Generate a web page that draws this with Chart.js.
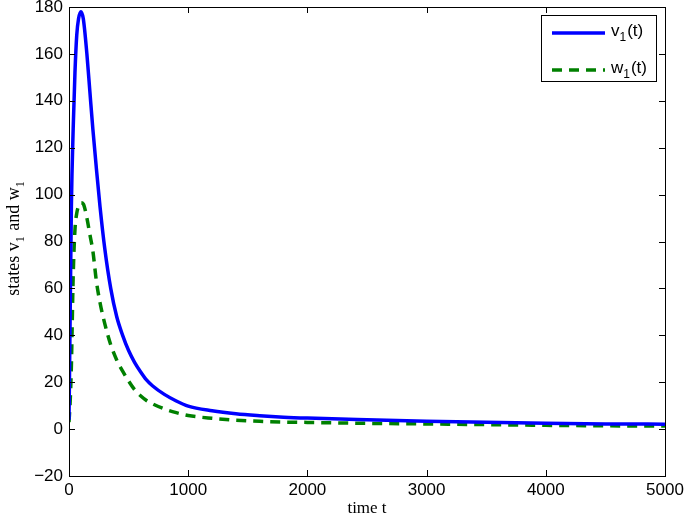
<!DOCTYPE html>
<html lang="en">
<head>
<meta charset="UTF-8">
<title>states v1 and w1</title>
<script src="https://cdn.jsdelivr.net/npm/chart.js"></script>
<style>
  html, body { margin: 0; padding: 0; background: #fff; }
  #wrap { width: 685px; height: 519px; }
</style>
</head>
<body>
<div id="wrap"><canvas id="chart"></canvas></div>
<script>
// time samples and the two states
const timeT = [0, 10, 20, 35, 50, 65, 80, 100, 120, 150, 175, 200, 230, 260, 300, 350, 400, 450, 500, 550, 600, 650, 700, 800, 900, 1000, 1200, 1400, 1600, 1800, 2000, 2500, 3000, 3500, 4000, 4500, 5000];
const v1 = [4, 50, 95, 128, 152, 168, 175, 178, 175, 160, 144, 128, 111, 95, 77, 60, 48, 40, 33.5, 28.5, 24.5, 21, 18.5, 14.8, 12, 9.8, 7.8, 6.5, 5.7, 5.1, 4.7, 4.0, 3.4, 2.9, 2.5, 2.2, 2.1];
const w1 = [3, 12, 27, 65, 85, 92, 95, 96.5, 96, 90, 83, 76, 63, 54, 45, 36, 29.5, 24.7, 20.5, 16.8, 14.2, 12.2, 10.8, 8.6, 7, 5.8, 4.6, 3.8, 3.3, 3.0, 2.85, 2.45, 2.2, 1.9, 1.6, 1.4, 1.3];
const xTicks = [0, 1000, 2000, 3000, 4000, 5000];
const yTicks = [-20, 0, 20, 40, 60, 80, 100, 120, 140, 160, 180];
// [main, subscript, rest] pieces for the labels with a subscript 1
const seriesNames = [['v', '1', '(t)'], ['w', '1', '(t)']];
const yTitle = [['states v', false], ['1', true], [' and w', false], ['1', true]];

const sansFont = 'Liberation Sans, Arial, sans-serif';
const serifFont = 'Liberation Serif, Times New Roman, serif';

// writes text pieces along the baseline, subscripts smaller and lower
function drawPieces(ctx, pieces, x, y, size, sub, family) {
  pieces.forEach(([txt, isSub]) => {
    ctx.font = (isSub ? sub : size) + 'px ' + family;
    ctx.fillText(txt, x, isSub ? y + size * 0.3 : y);
    x += ctx.measureText(txt).width + (isSub ? 1 : 0);
  });
}
function piecesWidth(ctx, pieces, size, sub, family) {
  return pieces.reduce((w, [txt, isSub]) => {
    ctx.font = (isSub ? sub : size) + 'px ' + family;
    return w + ctx.measureText(txt).width + (isSub ? 1 : 0);
  }, 0);
}

// box around the plot, inward ticks, y title and the legend in the top right corner
const matlabAxes = {
  id: 'matlabAxes',
  afterDraw(chart) {
    const { ctx, chartArea: a, scales } = chart;
    ctx.save();
    ctx.strokeStyle = '#000';
    ctx.lineWidth = 1;
    ctx.strokeRect(a.left + 0.5, a.top + 0.5, a.right - a.left, a.bottom - a.top);
    ctx.beginPath();
    xTicks.forEach(v => {
      const x = Math.round(scales.x.getPixelForValue(v)) + 0.5;
      ctx.moveTo(x, a.bottom); ctx.lineTo(x, a.bottom - 6);
      ctx.moveTo(x, a.top); ctx.lineTo(x, a.top + 6);
    });
    yTicks.forEach(v => {
      const y = Math.round(scales.y.getPixelForValue(v)) + 0.5;
      ctx.moveTo(a.left, y); ctx.lineTo(a.left + 6, y);
      ctx.moveTo(a.right, y); ctx.lineTo(a.right - 6, y);
    });
    ctx.stroke();

    // y title, rotated
    ctx.fillStyle = '#000';
    ctx.textBaseline = 'alphabetic';
    ctx.textAlign = 'left';
    const tw = piecesWidth(ctx, yTitle, 18, 12, serifFont);
    ctx.save();
    ctx.translate(19, 238);
    ctx.rotate(-Math.PI / 2);
    drawPieces(ctx, yTitle, -tw / 2, 0, 18, 12, serifFont);
    ctx.restore();

    // legend
    const bx = 541, by = 15, bw = 115, bh = 66;
    ctx.fillStyle = '#fff';
    ctx.fillRect(bx, by, bw, bh);
    ctx.strokeRect(bx + 0.5, by + 0.5, bw, bh);
    chart.data.datasets.forEach((ds, i) => {
      const y = by + 18 + i * 37;
      ctx.strokeStyle = ds.borderColor;
      ctx.lineWidth = ds.borderWidth;
      ctx.setLineDash(ds.borderDash || []);
      ctx.beginPath();
      ctx.moveTo(552, y); ctx.lineTo(605, y);
      ctx.stroke();
      ctx.setLineDash([]);
      ctx.fillStyle = '#000';
      const [m, s, r] = seriesNames[i];
      drawPieces(ctx, [[m, false], [s, true], [r, false]], 611, y + 3, 17, 12, sansFont);
    });
    ctx.restore();
  }
};

new Chart(document.getElementById('chart'), {
  type: 'line',
  data: {
    datasets: [
      {
        label: seriesNames[0].join(''),
        data: timeT.map((t, i) => ({ x: t, y: v1[i] })),
        borderColor: '#0000ff',
        borderWidth: 3.5,
        pointRadius: 0,
        cubicInterpolationMode: 'monotone',
        fill: false
      },
      {
        label: seriesNames[1].join(''),
        data: timeT.map((t, i) => ({ x: t, y: w1[i] })),
        borderColor: '#008000',
        borderWidth: 3.5,
        borderDash: [10, 7],
        pointRadius: 0,
        cubicInterpolationMode: 'monotone',
        fill: false
      }
    ]
  },
  options: {
    responsive: true,
    maintainAspectRatio: false,
    animation: false,
    layout: { padding: { top: 7, right: 20, left: 0, bottom: 0 } },
    plugins: { legend: { display: false }, tooltip: { enabled: false } },
    scales: {
      x: {
        type: 'linear',
        min: 0, max: 5000,
        afterBuildTicks: s => { s.ticks = xTicks.map(v => ({ value: v })); },
        afterFit: s => { s.height = 43; s.paddingLeft = 0; s.paddingRight = 0; },
        grid: { display: false, drawTicks: false },
        border: { display: false },
        ticks: { color: '#000', font: { family: sansFont, size: 17 }, padding: 4, maxRotation: 0, callback: v => String(v) },
        title: { display: true, text: 'time t', color: '#000', font: { family: serifFont, size: 17 }, padding: { top: 3, bottom: 0 } }
      },
      y: {
        type: 'linear',
        min: -20, max: 180,
        afterBuildTicks: s => { s.ticks = yTicks.map(v => ({ value: v })); },
        afterFit: s => { s.width = 69; s.paddingTop = 0; s.paddingBottom = 0; },
        grid: { display: false, drawTicks: false },
        border: { display: false },
        ticks: { color: '#000', font: { family: sansFont, size: 17 }, padding: 6, callback: v => String(v).replace('-', '\u2212') }
      }
    }
  },
  plugins: [matlabAxes]
});
</script>
</body>
</html>
